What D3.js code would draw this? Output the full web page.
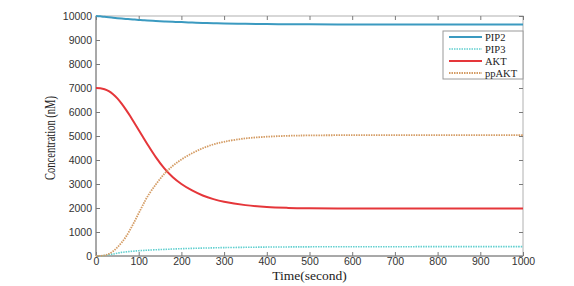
<!DOCTYPE html>
<html><head><meta charset="utf-8">
<script src="https://cdn.jsdelivr.net/npm/d3@7"></script>
<style>html,body{margin:0;padding:0;background:#fff;}svg{display:block;}</style>
</head><body>
<svg id="chart" width="574" height="286"></svg>
<script>
const time = [0,10,20,30,40,50,60,70,80,90,100,110,120,140,160,180,200,225,250,275,300,350,400,450,500,600,700,800,900,1000];
const PIP2 = [10000,9985,9965,9945,9928,9910,9895,9880,9865,9850,9837,9825,9813,9793,9775,9760,9745,9728,9713,9700,9690,9675,9665,9658,9653,9648,9646,9645,9645,9645];
const PIP3 = [0,2,20,50,85,115,150,170,190,205,220,232,242,260,275,290,305,318,330,340,350,362,372,378,382,386,388,389,390,390];
const AKT = [7000,6990,6950,6870,6740,6570,6350,6100,5830,5540,5250,4960,4670,4120,3650,3280,3000,2730,2520,2370,2260,2120,2040,2005,1990,1980,1980,1980,1980,1980];
const ppAKT = [0,5,25,90,200,360,560,800,1100,1430,1780,2130,2460,2980,3420,3760,4020,4280,4490,4650,4760,4900,4970,5008,5025,5035,5035,5035,5035,5035];
const xTicks = [0,100,200,300,400,500,600,700,800,900,1000];
const yTicks = [0,1000,2000,3000,4000,5000,6000,7000,8000,9000,10000];
const seriesNames = ["PIP2","PIP3","AKT","ppAKT"];
const seriesData = [PIP2, PIP3, AKT, ppAKT];
const seriesColor = ["#3b9ac0","#62d0d0","#e5363a","#d49c64"];
const seriesDash = [null,"1.5,1",null,"1.5,1"];
const seriesWidth = [2,1.6,2,1.8];

const svg = d3.select("#chart");
const L=96, R=523, T=16, B=256;
const x = d3.scaleLinear().domain([0,1000]).range([L,R]);
const y = d3.scaleLinear().domain([0,10000]).range([B,T]);
const axisColor = "#7a7a7a";
const tickFont = "'Liberation Sans', Arial, sans-serif";

// frame
svg.append("rect").attr("x",L).attr("y",T).attr("width",R-L).attr("height",B-T)
  .attr("fill","none").attr("stroke","#b0b0b0").attr("stroke-width",1);
svg.append("line").attr("x1",L).attr("x2",L).attr("y1",T).attr("y2",B).attr("stroke",axisColor);
svg.append("line").attr("x1",L).attr("x2",R).attr("y1",B).attr("y2",B).attr("stroke",axisColor);

// axes
const xb = svg.append("g").attr("transform",`translate(0,${B})`)
  .call(d3.axisBottom(x).tickValues(xTicks).tickSize(-4).tickPadding(2).tickFormat(d3.format("d")));
const xt = svg.append("g").attr("transform",`translate(0,${T})`)
  .call(d3.axisTop(x).tickValues(xTicks).tickSize(-4).tickFormat(""));
const yl = svg.append("g").attr("transform",`translate(${L},0)`)
  .call(d3.axisLeft(y).tickValues(yTicks).tickSize(-4).tickPadding(4).tickFormat(d3.format("d")));
const yr = svg.append("g").attr("transform",`translate(${R},0)`)
  .call(d3.axisRight(y).tickValues(yTicks).tickSize(-4).tickFormat(""));
[xb,xt,yl,yr].forEach(g=>{
  g.select(".domain").remove();
  g.selectAll(".tick line").attr("stroke",axisColor);
  g.selectAll(".tick text").attr("fill","#333").style("font-family",tickFont).style("font-size","10.5px");
});

// lines
const line = d3.line().x((d,i)=>x(time[i])).y(d=>y(d)).curve(d3.curveCatmullRom.alpha(0.5));
seriesData.forEach((s,k)=>{
  svg.append("path").datum(s).attr("d",line).attr("fill","none")
    .attr("stroke",seriesColor[k]).attr("stroke-width",seriesWidth[k])
    .attr("stroke-dasharray",seriesDash[k]);
});

// legend
const lg = svg.append("g");
lg.append("rect").attr("x",443).attr("y",31).attr("width",R-443).attr("height",48)
  .attr("fill","#fff").attr("stroke","#9a9a9a").attr("stroke-width",1);
seriesNames.forEach((n,k)=>{
  const yy = 37 + k*12;
  lg.append("line").attr("x1",449).attr("x2",482).attr("y1",yy).attr("y2",yy)
    .attr("stroke",seriesColor[k]).attr("stroke-width",seriesWidth[k])
    .attr("stroke-dasharray",seriesDash[k]);
  lg.append("text").attr("x",485).attr("y",yy+3.5).text(n)
    .style("font-family","'Liberation Serif','Times New Roman',serif").style("font-size","10.5px").attr("fill","#222");
});

// axis labels
svg.append("text").attr("x",(L+R)/2).attr("y",280).attr("text-anchor","middle")
  .style("font-family","'Liberation Serif','Times New Roman',serif").style("font-size","13.5px")
  .attr("fill","#222").text("Time(second)");
svg.append("text").attr("transform",`translate(55,138) rotate(-90)`).attr("text-anchor","middle")
  .style("font-family","'Liberation Serif','Times New Roman',serif").style("font-size","14px")
  .attr("textLength",84).attr("lengthAdjust","spacingAndGlyphs")
  .attr("fill","#222").text("Concentration (nM)");
</script>
</body></html>
